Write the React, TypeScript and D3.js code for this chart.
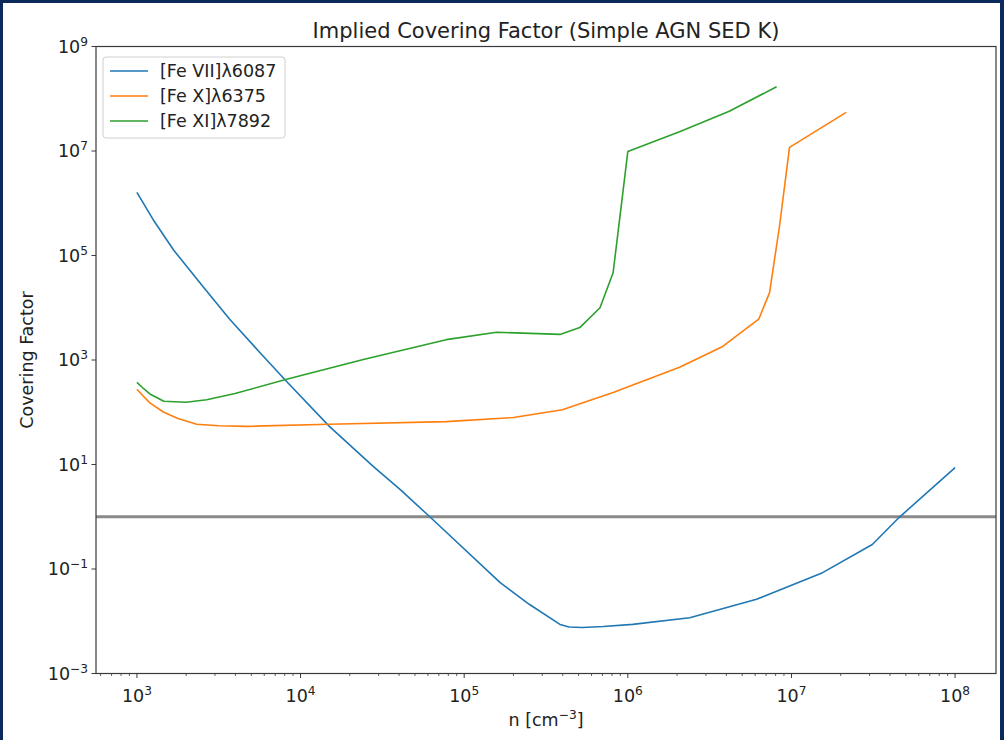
import React from "react";
import * as d3 from "d3";

// ---- data ----
const feVII_n = [1.0e3, 1.26e3, 1.68e3, 2.51e3, 3.69e3, 5.62e3, 8.22e3, 1.5e4, 2.79e4, 4.07e4, 6.21e4, 1.66e5, 2.51e5, 3.85e5, 4.37e5, 5.25e5, 7.08e5, 1.07e6, 2.39e6, 6.12e6, 1.55e7, 3.12e7, 4.56e7, 1.0e8];
const feVII_cf = [1.62e6, 4.79e5, 1.26e5, 2.63e4, 6.03e3, 1.41e3, 389, 53.7, 9.12, 3.31, 0.977, 0.055, 0.0209, 0.0087, 0.00776, 0.00759, 0.00794, 0.0087, 0.0117, 0.0263, 0.0851, 0.295, 0.977, 8.71];

const feX_n = [1.0e3, 1.1e3, 1.2e3, 1.46e3, 1.78e3, 2.32e3, 3.16e3, 4.68e3, 1.5e4, 7.76e4, 2.0e5, 3.98e5, 8.13e5, 2.07e6, 3.8e6, 6.31e6, 7.35e6, 8.45e6, 9.73e6, 2.16e7];
const feX_cf = [275, 200, 151, 100, 75.9, 58.9, 55.0, 53.7, 58.9, 66.1, 79.4, 112, 240, 724, 1820, 6030, 1.95e4, 3.63e5, 1.17e7, 5.5e7];

const feXI_n = [1.0e3, 1.1e3, 1.2e3, 1.46e3, 2.0e3, 2.67e3, 3.98e3, 8.22e3, 2.42e4, 7.76e4, 1.58e5, 3.85e5, 5.09e5, 6.76e5, 8.13e5, 9.33e5, 1.0e6, 2.07e6, 4.17e6, 8.11e6];
const feXI_cf = [372, 282, 224, 162, 155, 174, 229, 427, 1020, 2450, 3390, 3090, 4170, 1.0e4, 4.68e4, 1.62e6, 9.77e6, 2.34e7, 5.75e7, 1.7e8];

const seriesNames = ["[Fe VII]\u03bb6087", "[Fe X]\u03bb6375", "[Fe XI]\u03bb7892"];
const seriesColors = ["#1f77b4", "#ff7f0e", "#2ca02c"];
const xTickExps = [3, 4, 5, 6, 7, 8];
const yTickExps = [-3, -1, 1, 3, 5, 7, 9];
const refLevel = 1;

const W = 1004;
const H = 740;
const FONT = "'DejaVu Sans', sans-serif";

export default function App() {
  const left = 96, right = 996, top = 46.5, bottom = 673.5;
  const x = d3.scaleLog().domain([Math.pow(10, 2.75), Math.pow(10, 8.25)]).range([left, right]);
  const y = d3.scaleLog().domain([1e-3, 1e9]).range([bottom, top]);

  const series = [
    { n: feVII_n, cf: feVII_cf },
    { n: feX_n, cf: feX_cf },
    { n: feXI_n, cf: feXI_cf },
  ];
  const line = d3
    .line<[number, number]>()
    .x((d) => x(d[0]))
    .y((d) => y(d[1]));

  const minorX: number[] = [];
  for (let e = 2; e <= 8; e++) {
    for (let m = 2; m <= 9; m++) {
      const v = m * Math.pow(10, e);
      if (v >= x.domain()[0] && v <= x.domain()[1]) minorX.push(v);
    }
  }

  const fs = 17.5;
  const sup = 12.2;

  return (
    <svg
      width={W}
      height={H}
      style={{ position: "absolute", left: 0, top: 0, display: "block" }}
      fontFamily={FONT}
    >
      <rect x={0} y={0} width={W} height={H} fill="#0b2a5b" />
      <rect x={3} y={3} width={W - 7} height={H - 3} fill="#ffffff" />

      {/* reference line */}
      <line x1={left} x2={right} y1={y(refLevel)} y2={y(refLevel)} stroke="#8a8a8a" strokeWidth={3} />

      {/* series */}
      {series.map((s, i) => (
        <path
          key={i}
          d={line(s.n.map((v, j) => [v, s.cf[j]] as [number, number])) || ""}
          fill="none"
          stroke={seriesColors[i]}
          strokeWidth={1.6}
          strokeLinejoin="round"
        />
      ))}

      {/* spines */}
      <rect x={left} y={top} width={right - left} height={bottom - top} fill="none" stroke="#3a3a3a" strokeWidth={1.2} />

      {/* x ticks */}
      {minorX.map((v, i) => (
        <line key={"mx" + i} x1={x(v)} x2={x(v)} y1={bottom} y2={bottom + 2.5} stroke="#3a3a3a" strokeWidth={0.8} />
      ))}
      {xTickExps.map((e) => {
        const px = x(Math.pow(10, e));
        return (
          <g key={"xt" + e}>
            <line x1={px} x2={px} y1={bottom} y2={bottom + 4.5} stroke="#3a3a3a" strokeWidth={1} />
            <text x={px} y={702} textAnchor="middle" fontSize={fs} fill="#222">
              10<tspan fontSize={sup} dy={-7}>{String(e)}</tspan>
            </text>
          </g>
        );
      })}

      {/* y ticks */}
      {yTickExps.map((e) => {
        const py = y(Math.pow(10, e));
        return (
          <g key={"yt" + e}>
            <line x1={left - 4.5} x2={left} y1={py} y2={py} stroke="#3a3a3a" strokeWidth={1} />
            <text x={left - 8} y={py + 6} textAnchor="end" fontSize={fs} fill="#222">
              10<tspan fontSize={sup} dy={-7}>{e < 0 ? "\u2212" + Math.abs(e) : String(e)}</tspan>
            </text>
          </g>
        );
      })}

      {/* titles */}
      <text x={(left + right) / 2} y={38} textAnchor="middle" fontSize={21} fill="#222">
        Implied Covering Factor (Simple AGN SED K)
      </text>
      <text x={(left + right) / 2} y={726} textAnchor="middle" fontSize={fs} fill="#222">
        n [cm<tspan fontSize={sup} dy={-7}>{"\u22123"}</tspan>
        <tspan dy={7}>]</tspan>
      </text>
      <text
        transform={`translate(33, ${(top + bottom) / 2}) rotate(-90)`}
        textAnchor="middle"
        fontSize={fs}
        fill="#222"
      >
        Covering Factor
      </text>

      {/* legend */}
      <rect x={103} y={57} width={182} height={81} rx={3} fill="#ffffff" fillOpacity={0.8} stroke="#d0d0d0" strokeWidth={1} />
      {seriesNames.map((name, i) => {
        const ly = 71 + i * 25;
        return (
          <g key={"lg" + i}>
            <line x1={110} x2={148} y1={ly} y2={ly} stroke={seriesColors[i]} strokeWidth={1.6} />
            <text x={160} y={ly + 6} fontSize={fs} fill="#222">
              {name}
            </text>
          </g>
        );
      })}
    </svg>
  );
}
